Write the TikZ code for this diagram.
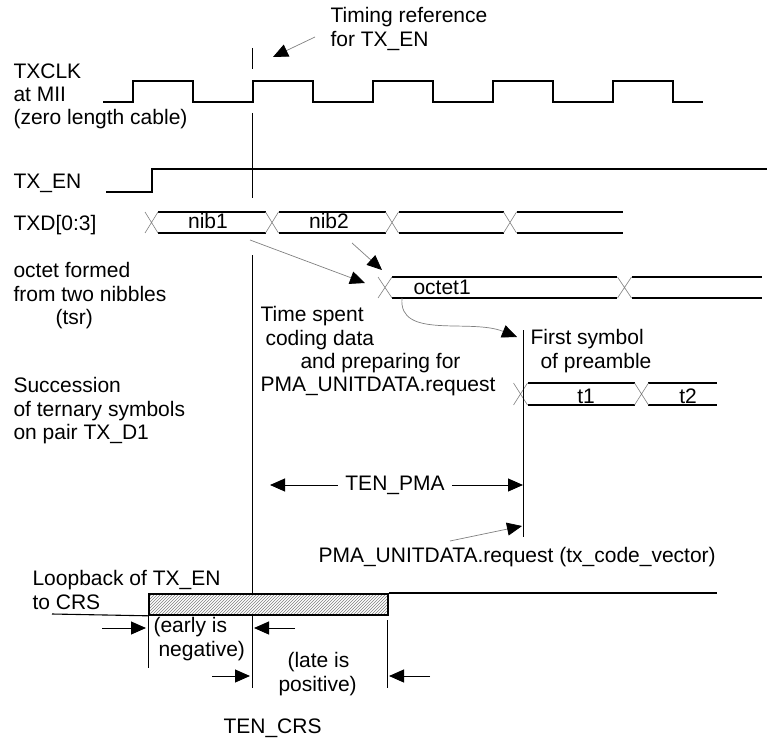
\documentclass[tikz,border=0pt]{standalone}
\usepackage{fontspec}
\setmainfont{Liberation Sans}
\usepackage{tikz}
\usetikzlibrary{arrows.meta, patterns, positioning, calc}

\begin{document}
\begin{tikzpicture}[x=1pt, y=-1pt, line width=1.1pt, font=\fontsize{21}{23.3}\selectfont]
  \tikzstyle{lbl} = [inner sep=0pt, anchor=base west]
  \tikzstyle{blk} = [inner sep=0pt, anchor=north west, align=left]
  \tikzstyle{xing} = [draw=gray, line width=0.6pt]
  \tikzstyle{ptr} = [-{Triangle[length=15pt, width=13pt, color=black]}, draw=gray, line width=0.7pt]
  \tikzstyle{dim} = [-{Triangle[length=15pt, width=13pt]}, line width=1pt]

  \useasboundingbox (0,0) rectangle (767,746);

  % labels
  \node[blk] (timref) at (330,7) {Timing reference\\for TX\_EN};
  \node[blk] (txclk) at (13,63) {TXCLK\\at MII\\(zero length cable)};
  \node[lbl] (txen) at (13,188) {TX\_EN};
  \node[lbl] (txd) at (13,230) {TXD[0:3]};
  \node[blk] (octform) at (13,262) {octet formed\\from two nibbles\\\hspace*{42pt}(tsr)};
  \node[blk] (succ) at (13,377) {Succession\\of ternary symbols\\on pair TX\_D1};
  \node[blk] (spent) at (260,306) {Time spent\\\hspace*{5pt}coding data\\\hspace*{40pt}and preparing for\\PMA\_UNITDATA.request};
  \node[blk] (first) at (530,329) {First symbol\\\hspace*{10pt}of preamble};
  \node[lbl] (pmareq) at (318,562) {PMA\_UNITDATA.request (tx\_code\_vector)};
  \node[blk] (loop) at (32,570) {Loopback of TX\_EN\\to CRS};
  \node[blk] (early) at (153,617) {(early is\\\hspace*{5pt}negative)};
  \node[blk] (late) at (278,652) {\hspace*{9pt}(late is\\positive)};
  \node[lbl] (tencrs) at (223,733) {TEN\_CRS};

  % waveforms
  \draw (103,102) -| (133,81) -| (193,102) -| (253,81) -| (313,102) -| (373,81) -| (433,102)
    -| (493,81) -| (553,102) -| (613,81) -| (673,102) -- (703,102);
  \draw (106,192) -| (152,169) -- (767,169);

  \foreach \a/\b in {158/265.5, 278.5/385.5, 398.5/503.5, 516.5/623}
    \draw (\a,212) -- (\b,212) (\a,233) -- (\b,233);
  \foreach \c in {151.5, 272, 392, 510}
    \draw[xing] (\c-6.5,212) -- (\c+6.5,233) (\c-6.5,233) -- (\c+6.5,212);
  \node (nibA) at (208,221) {nib1};
  \node (nibB) at (329,221) {nib2};

  \foreach \a/\b in {392/617, 632/762}
    \draw (\a,277) -- (\b,277) (\a,298) -- (\b,298);
  \foreach \c in {385, 624.5}
    \draw[xing] (\c-7,277) -- (\c+7,298) (\c-7,298) -- (\c+7,277);
  \node[lbl] (octA) at (413,294) {octet1};

  \foreach \a/\b in {528/635, 648/717}
    \draw (\a,383) -- (\b,383) (\a,405) -- (\b,405);
  \foreach \c in {520.5, 641.5}
    \draw[xing] (\c-7,383) -- (\c+7,405) (\c-7,405) -- (\c+7,383);
  \node[lbl, anchor=base] (tA) at (586,403) {t1};
  \node[lbl, anchor=base] (tB) at (688,403) {t2};

  % reference lines
  \draw[line width=1pt] (252,48) -- (252,69) (252,113) -- (252,198) (252,255) -- (252,688);
  \draw[line width=1pt] (523,330) -- (523,537);
  \draw[line width=1pt] (148,614) -- (148,668) (387,620) -- (387,688);

  \node[draw, line width=1.8pt, preaction={fill=white}, pattern=north east lines, pattern color=gray,
    minimum width=239pt, minimum height=21pt, inner sep=0pt, anchor=north west] (crsbox) at (148,593) {};
  \draw (52,614) -- (crsbox.south west);
  \draw (crsbox.north east) -- (717,593);

  % pointers
  \coordinate (timtail) at (315,37);
  \coordinate (timtip) at (273,57);
  \coordinate (nibAtail) at (250,240);
  \coordinate (nibAtip) at (365,283);
  \coordinate (nibBtail) at (352,243);
  \coordinate (nibBtip) at (382,270);
  \coordinate (octtail) at (402,298);
  \coordinate (firsttip) at (517,337);
  \coordinate (reqtail) at (450,541);
  \coordinate (reqtip) at (522,526);
  \draw[ptr] (timtail) -- (timtip);
  \draw[ptr] (nibAtail) -- (nibAtip);
  \draw[ptr] (nibBtail) -- (nibBtip);
  \draw[ptr] (octtail) .. controls (398,340) and (470,318) .. (firsttip);
  \draw[ptr] (reqtail) -- (reqtip);

  \node[inner xsep=7pt, inner ysep=2pt] (tenpma) at (395,485) {TEN\_PMA};
  \coordinate (pmaL) at (270,485);
  \coordinate (pmaR) at (523,485);
  \draw[dim] (tenpma) -- (pmaL);
  \draw[dim] (tenpma) -- (pmaR);

  \coordinate (eA) at (102,628);
  \coordinate (eB) at (146,628);
  \coordinate (eC) at (295,628);
  \coordinate (eD) at (254,628);
  \coordinate (lA) at (212,676);
  \coordinate (lB) at (250,676);
  \coordinate (lC) at (430,676);
  \coordinate (lD) at (389,676);
  \draw[dim] (eA) -- (eB);
  \draw[dim] (eC) -- (eD);
  \draw[dim] (lA) -- (lB);
  \draw[dim] (lC) -- (lD);
\end{tikzpicture}
\end{document}
